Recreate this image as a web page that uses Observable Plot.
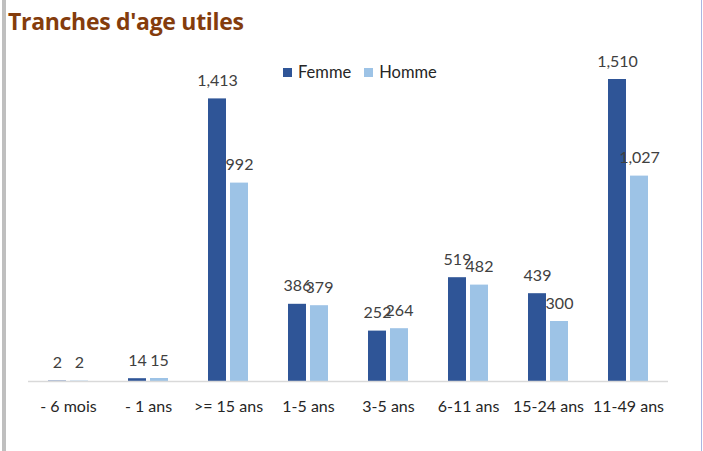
<!DOCTYPE html>
<html>
<head>
<meta charset="utf-8">
<script src="https://cdn.jsdelivr.net/npm/d3@7"></script>
<script src="https://cdn.jsdelivr.net/npm/@observablehq/plot@0.6"></script>
<style>
  html, body { margin: 0; padding: 0; background: #fff; }
  #wrap { position: relative; width: 703px; height: 451px; overflow: hidden; font-family: Lato, "Open Sans", sans-serif; }
  #title { position: absolute; left: 8px; top: 5px; font-size: 23px; font-weight: bold; color: #843C0C; font-family: "Open Sans", Lato, sans-serif; letter-spacing: -0.3px; }
  #legend { position: absolute; left: 283px; top: 62px; font-size: 16.5px; color: #262626; display: flex; gap: 13px; align-items: center; }
  #legend span.sw { display: inline-block; width: 9px; height: 9px; margin-right: 6px; vertical-align: middle; position: relative; top: -1px; }
  #lborder { position: absolute; left: 2px; top: 0; width: 4px; height: 451px; background: #bfbfbf; }
  #rborder { position: absolute; left: 701px; top: 0; width: 1px; height: 451px; background: #aab6e2; }
  #chart { position: absolute; left: 0; top: 0; }
</style>
</head>
<body>
<div id="wrap">
  <div id="chart"></div>
  <div id="lborder"></div>
  <div id="rborder"></div>
  <div id="title">Tranches d'age utiles</div>
  <div id="legend"></div>
</div>
<script>
const categories = ["- 6 mois", "- 1 ans", ">= 15 ans", "1-5 ans", "3-5 ans", "6-11 ans", "15-24 ans", "11-49 ans"];
const femme = [2, 14, 1413, 386, 252, 519, 439, 1510];
const homme = [2, 15, 992, 379, 264, 482, 300, 1027];
const seriesNames = ["Femme", "Homme"];
const seriesColors = ["#2F5597", "#9DC3E6"];

const rows = [];
categories.forEach((c, i) => {
  rows.push({cat: c, sex: "Femme", value: femme[i]});
  rows.push({cat: c, sex: "Homme", value: homme[i]});
});
const fem = rows.filter(d => d.sex === "Femme");
const hom = rows.filter(d => d.sex === "Homme");
const fmt = d3.format(",");

const plot = Plot.plot({
  width: 703,
  height: 451,
  marginLeft: 28,
  marginRight: 35,
  marginTop: 61,
  marginBottom: 70,
  style: {fontFamily: "Lato, 'Open Sans', sans-serif", fontSize: "16px", color: "#404040", background: "transparent"},
  x: {domain: categories, padding: 0, label: null},
  y: {domain: [0, 1600], axis: null},
  color: {domain: seriesNames, range: seriesColors},
  marks: [
    Plot.barY(fem, {x: "cat", y: "value", fill: seriesColors[0], insetLeft: 20, insetRight: 42}),
    Plot.barY(hom, {x: "cat", y: "value", fill: seriesColors[1], insetLeft: 42, insetRight: 20}),
    Plot.ruleY([0], {stroke: "#d9d9d9", strokeWidth: 1.5}),
    Plot.text(fem, {x: "cat", y: "value", text: d => fmt(d.value), dx: -11, dy: -18, fill: "#404040", fontSize: 16}),
    Plot.text(hom, {x: "cat", y: "value", text: d => fmt(d.value), dx: 11, dy: -18, fill: "#404040", fontSize: 16}),
    Plot.axisX({tickSize: 0, tickPadding: 19, fontSize: 16, fill: "#262626", label: null})
  ]
});
document.getElementById("chart").appendChild(plot);

const legend = document.getElementById("legend");
seriesNames.forEach((n, i) => {
  const item = document.createElement("div");
  item.innerHTML = `<span class="sw" style="background:${seriesColors[i]}"></span>${n}`;
  legend.appendChild(item);
});
</script>
</body>
</html>
